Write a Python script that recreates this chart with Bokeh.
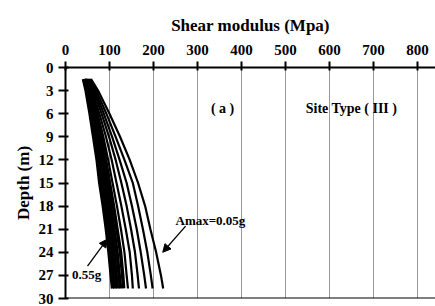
from bokeh.plotting import figure
from bokeh.models import Range1d, FixedTicker, Span, Arrow, NormalHead, Label
from bokeh.embed import file_html
from bokeh.resources import INLINE

# Depth samples (m)
depths = [1.5, 3, 6, 9, 12, 15, 18, 21, 24, 27, 28.7]

# Shear modulus (MPa) for each Amax level
amax_labels = ["0.05g", "0.10g", "0.15g", "0.20g", "0.25g", "0.30g",
               "0.35g", "0.40g", "0.45g", "0.50g", "0.55g"]
g_005 = [58, 74, 100, 124, 146, 165, 181, 193, 206, 217, 222]
g_010 = [56, 70, 93, 114, 134, 153, 165, 176, 186, 194, 198]
g_015 = [54, 67, 87, 106, 123, 139, 151, 162, 171, 179, 183]
g_020 = [52, 64, 82, 99, 114, 127, 139, 149, 158, 164, 167]
g_025 = [50, 61, 77, 92, 105, 116, 127, 137, 146, 151, 153]
g_030 = [48, 58, 73, 86, 97, 107, 117, 126, 134, 139, 142]
g_035 = [46, 56, 69, 81, 91, 100, 109, 117, 125, 130, 132]
g_040 = [45, 53, 65, 76, 85, 94, 102, 110, 117, 122, 125]
g_045 = [43, 51, 62, 72, 81, 89, 96, 104, 110, 115, 118]
g_050 = [42, 49, 59, 68, 77, 84, 91, 98, 104, 109, 112]
g_055 = [41, 47, 56, 64, 72, 78, 86, 93, 99, 104, 107]
series = [g_005, g_010, g_015, g_020, g_025, g_030,
          g_035, g_040, g_045, g_050, g_055]

x_ticks = [0, 100, 200, 300, 400, 500, 600, 700, 800]
y_ticks = [0, 3, 6, 9, 12, 15, 18, 21, 24, 27, 30]

FONT = "Liberation Serif"

p = figure(width=435, height=306, output_backend="svg", toolbar_location=None,
           x_axis_location="above",
           x_range=Range1d(0, 841), y_range=Range1d(30, 0),
           min_border_left=65, min_border_top=67, min_border_right=0,
           min_border_bottom=8, background_fill_color="white",
           border_fill_color="white")
p.outline_line_color = None

# top axis
xa = p.xaxis[0]
xa.ticker = FixedTicker(ticks=x_ticks)
xa.axis_label = "Shear modulus (Mpa)"
xa.axis_label_text_font = FONT
xa.axis_label_text_font_style = "bold"
xa.axis_label_text_font_size = "17px"
xa.axis_label_text_color = "black"
xa.axis_label_standoff = 7
xa.major_label_text_font = FONT
xa.major_label_text_font_style = "bold"
xa.major_label_text_font_size = "15px"
xa.major_label_text_color = "black"
xa.major_label_standoff = 7
xa.axis_line_width = 2
xa.axis_line_color = "black"
xa.major_tick_line_width = 2
xa.major_tick_line_color = "black"
xa.major_tick_out = 6
xa.major_tick_in = 3
xa.minor_tick_line_color = None

ya = p.yaxis[0]
ya.ticker = FixedTicker(ticks=y_ticks)
ya.axis_label = "Depth (m)"
ya.axis_label_text_font = FONT
ya.axis_label_text_font_style = "bold"
ya.axis_label_text_font_size = "17px"
ya.axis_label_text_color = "black"
ya.axis_label_standoff = 3
ya.major_label_text_font = FONT
ya.major_label_text_font_style = "bold"
ya.major_label_text_font_size = "15px"
ya.major_label_text_color = "black"
ya.major_label_standoff = 5
ya.axis_line_width = 2
ya.axis_line_color = "black"
ya.major_tick_line_width = 2
ya.major_tick_line_color = "black"
ya.major_tick_out = 7
ya.major_tick_in = 3
ya.minor_tick_line_color = None

p.xgrid.ticker = FixedTicker(ticks=x_ticks)
p.xgrid.grid_line_color = "#9a9a9a"
p.xgrid.grid_line_width = 1
p.ygrid.grid_line_color = None

# bottom frame line
p.add_layout(Span(location=30, dimension="width", line_color="black", line_width=2))

for i, g in enumerate(series):
    lw = 2.2 if i < 6 else 3.6
    p.line(g, depths, line_color="black", line_width=lw, line_cap="butt")

def lab(x, y, t, size, align="center"):
    p.add_layout(Label(x=x, y=y, text=t, text_font=FONT, text_font_style="bold",
                       text_font_size=size, text_align=align, text_baseline="middle",
                       text_color="black"))

lab(357, 5.3, "( a )", "14px")
lab(650, 5.3, "Site Type ( III )", "14px")
lab(250, 19.9, "Amax=0.05g", "13px", "left")
lab(48, 26.9, "0.55g", "13px")

p.add_layout(Arrow(end=NormalHead(size=8, fill_color="black", line_color="black"),
                   x_start=273, y_start=20.6, x_end=221, y_end=24.0,
                   line_color="black", line_width=1.3))
p.add_layout(Arrow(end=NormalHead(size=8, fill_color="black", line_color="black"),
                   x_start=50, y_start=25.8, x_end=95, y_end=22.3,
                   line_color="black", line_width=1.3))

open("out.html", "w").write(file_html(p, INLINE))
